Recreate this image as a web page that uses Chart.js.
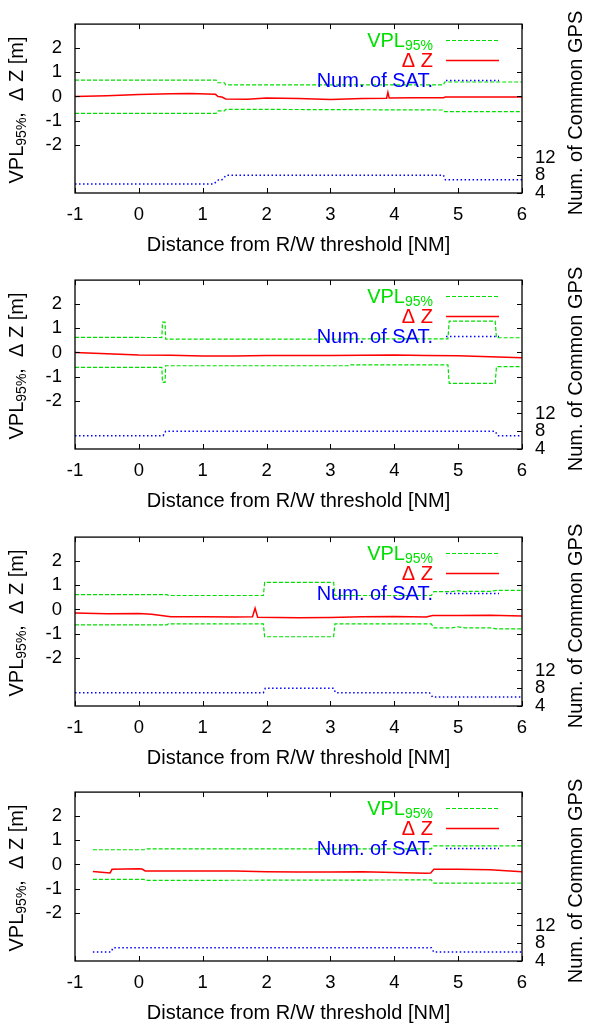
<!DOCTYPE html>
<html>
<head>
<meta charset="utf-8">
<script src="https://cdn.jsdelivr.net/npm/chart.js@4.4.1/dist/chart.umd.min.js"></script>
<style>
  body { margin: 0; background: #fff; }
  canvas { position: absolute; left: 0; }
</style>
</head>
<body>
<canvas id="c0" width="590" height="256" style="top:0px"></canvas>
<canvas id="c1" width="590" height="256" style="top:256px"></canvas>
<canvas id="c2" width="590" height="256" style="top:513px"></canvas>
<canvas id="c3" width="590" height="256" style="top:768px"></canvas>
<script>
// axis ticks
const xTicks = [-1, 0, 1, 2, 3, 4, 5, 6];
const yTicks = [-2, -1, 0, 1, 2];
const y2Ticks = [4, 8, 12];

// panel 1
const p1VplX = [-1, 1.21, 1.23, 1.34, 1.36, 4.77, 4.79, 6];
const p1VplUp = [0.68, 0.68, 0.57, 0.57, 0.48, 0.48, 0.60, 0.60];
const p1VplLo = [-0.70, -0.70, -0.60, -0.60, -0.53, -0.56, -0.63, -0.63];
const p1DzX = [-1, -0.5, 0, 0.5, 0.8, 1.2, 1.24, 1.3, 1.36, 1.7, 2.0, 2.5, 3.0, 3.5, 3.88, 3.9, 3.92, 4.3, 4.77, 4.8, 5.5, 6];
const p1Dz = [0.0, 0.03, 0.08, 0.11, 0.12, 0.09, 0.0, -0.02, -0.1, -0.11, -0.06, -0.08, -0.12, -0.08, -0.07, 0.17, -0.06, -0.05, -0.05, -0.02, -0.02, -0.02];
const p1SatX = [-1, 1.17, 1.25, 1.3, 1.37, 4.77, 4.8, 6];
const p1Sat = [6, 6, 7, 7, 8, 8, 7, 7];

// panel 2
const p2VplX = [-1, 0.36, 0.37, 0.41, 0.42, 3.3, 3.32, 4.84, 4.86, 5.58, 5.6, 6];
const p2VplUp = [0.63, 0.62, 1.26, 1.26, 0.55, 0.55, 0.56, 0.56, 1.3, 1.3, 0.61, 0.61];
const p2VplLo = [-0.62, -0.62, -1.24, -1.24, -0.55, -0.55, -0.51, -0.51, -1.28, -1.28, -0.59, -0.59];
const p2DzX = [-1, -0.5, 0, 0.5, 1, 1.5, 2, 2.5, 3, 3.5, 4, 4.5, 5, 5.5, 6];
const p2Dz = [0.0, -0.05, -0.1, -0.11, -0.15, -0.15, -0.12, -0.13, -0.12, -0.11, -0.1, -0.12, -0.14, -0.18, -0.22];
const p2SatX = [-1, 0.38, 0.42, 5.58, 5.62, 6];
const p2Sat = [7, 7, 8, 8, 7, 7];

// panel 3
const p3VplX = [-1, 0.44, 0.46, 1.95, 1.97, 3.05, 3.07, 4.58, 4.62, 4.9, 5.0, 5.1, 5.2, 5.5, 5.6, 6];
const p3VplUp = [0.62, 0.62, 0.58, 0.58, 1.12, 1.12, 0.58, 0.58, 0.74, 0.74, 0.78, 0.74, 0.75, 0.75, 0.79, 0.79];
const p3VplLo = [-0.64, -0.64, -0.6, -0.6, -1.13, -1.13, -0.6, -0.6, -0.76, -0.76, -0.72, -0.76, -0.76, -0.76, -0.8, -0.8];
const p3DzX = [-1, -0.5, 0, 0.2, 0.5, 1, 1.5, 1.78, 1.82, 1.86, 2.5, 3, 3.5, 4, 4.5, 4.6, 5, 5.5, 6];
const p3Dz = [-0.15, -0.18, -0.17, -0.2, -0.3, -0.3, -0.31, -0.3, 0.05, -0.32, -0.34, -0.33, -0.3, -0.29, -0.31, -0.25, -0.25, -0.24, -0.27];
const p3SatX = [-1, 1.95, 1.98, 3.05, 3.08, 4.55, 4.6, 6];
const p3Sat = [7, 7, 8, 8, 7, 7, 6, 6];

// panel 4
const p4VplX = [-0.72, 0.08, 0.12, 4.58, 4.62, 6];
const p4VplUp = [0.61, 0.61, 0.65, 0.65, 0.77, 0.77];
const p4VplLo = [-0.62, -0.62, -0.66, -0.64, -0.77, -0.77];
const p4DzX = [-0.72, -0.45, -0.42, 0, 0.05, 0.1, 1, 1.5, 2, 2.5, 3, 3.5, 4, 4.5, 4.57, 4.62, 5, 5.5, 6];
const p4Dz = [-0.29, -0.35, -0.2, -0.18, -0.19, -0.27, -0.27, -0.27, -0.3, -0.31, -0.31, -0.3, -0.33, -0.36, -0.35, -0.2, -0.2, -0.22, -0.3];
const p4SatX = [-0.72, -0.44, -0.4, 4.58, 4.62, 6];
const p4Sat = [6, 6, 7, 7, 6, 6];

const panels = [
  [p1VplX, p1VplUp, p1VplLo, p1DzX, p1Dz, p1SatX, p1Sat],
  [p2VplX, p2VplUp, p2VplLo, p2DzX, p2Dz, p2SatX, p2Sat],
  [p3VplX, p3VplUp, p3VplLo, p3DzX, p3Dz, p3SatX, p3Sat],
  [p4VplX, p4VplUp, p4VplLo, p4DzX, p4Dz, p4SatX, p4Sat]
];

const GREEN = '#00e000';
const RED = '#ff0000';
const BLUE = '#0000ff';
const FAMILY = '"Liberation Sans", Arial, sans-serif';
const tickFont = { family: FAMILY, size: 18.5 };

function pts(xs, ys) {
  return xs.map((x, i) => ({ x: x, y: ys[i] }));
}

// text with a subscript part, e.g. VPL_{95%}
function drawSub(ctx, x, y, main, sub, rest, align) {
  ctx.font = '20px ' + FAMILY;
  const w1 = ctx.measureText(main).width;
  const w3 = rest ? ctx.measureText(rest).width : 0;
  ctx.font = '14px ' + FAMILY;
  const w2 = ctx.measureText(sub).width;
  const total = w1 + w2 + w3;
  let sx = align === 'right' ? x - total : (align === 'center' ? x - total / 2 : x);
  ctx.textAlign = 'left';
  ctx.font = '20px ' + FAMILY;
  ctx.fillText(main, sx, y);
  ctx.font = '14px ' + FAMILY;
  ctx.fillText(sub, sx + w1, y + 3);
  if (rest) {
    ctx.font = '20px ' + FAMILY;
    ctx.fillText(rest, sx + w1 + w2, y);
  }
}

const gnuFrame = {
  id: 'gnuFrame',
  afterDraw(chart) {
    const ctx = chart.ctx;
    const a = chart.chartArea;
    const sx = chart.scales.x, sy = chart.scales.y, sy2 = chart.scales.y2;
    ctx.save();
    ctx.strokeStyle = '#000';
    ctx.lineWidth = 1.3;
    ctx.strokeRect(a.left, a.top, a.right - a.left, a.bottom - a.top);
    ctx.lineWidth = 1;
    ctx.beginPath();
    const t = 5;
    yTicks.forEach(v => {
      const p = Math.round(sy.getPixelForValue(v)) + 0.5;
      ctx.moveTo(a.left, p); ctx.lineTo(a.left + t, p);
      ctx.moveTo(a.right, p); ctx.lineTo(a.right - t, p);
    });
    y2Ticks.forEach(v => {
      const p = Math.round(sy2.getPixelForValue(v)) + 0.5;
      ctx.moveTo(a.right, p); ctx.lineTo(a.right - t, p);
    });
    xTicks.forEach(v => {
      const p = Math.round(sx.getPixelForValue(v)) + 0.5;
      ctx.moveTo(p, a.bottom); ctx.lineTo(p, a.bottom - t);
      ctx.moveTo(p, a.top); ctx.lineTo(p, a.top + t);
    });
    ctx.stroke();

    // key
    ctx.textBaseline = 'alphabetic';
    ctx.fillStyle = GREEN;
    drawSub(ctx, 433, 46.5, 'VPL', '95%', '', 'right');
    ctx.font = '20px ' + FAMILY;
    ctx.textAlign = 'right';
    ctx.fillStyle = RED;
    ctx.fillText('\u0394 Z', 433, 66.5);
    ctx.fillStyle = BLUE;
    ctx.fillText('Num. of SAT.', 433, 86.5);
    const samples = [[40.5, GREEN, [4, 2], 1.2], [60.5, RED, [], 1.5], [80.5, BLUE, [1.5, 2.5], 1.5]];
    samples.forEach(s => {
      ctx.beginPath();
      ctx.strokeStyle = s[1];
      ctx.setLineDash(s[2]);
      ctx.lineWidth = s[3];
      ctx.moveTo(446, s[0]); ctx.lineTo(499, s[0]);
      ctx.stroke();
    });
    ctx.setLineDash([]);

    // axis titles
    ctx.fillStyle = '#000';
    ctx.font = '20px ' + FAMILY;
    ctx.textAlign = 'center';
    ctx.fillText('Distance from R/W threshold [NM]', (a.left + a.right) / 2, 251);

    ctx.save();
    ctx.translate(23, 110);
    ctx.rotate(-Math.PI / 2);
    drawSub(ctx, 0, 0, 'VPL', '95%', ',  \u0394 Z [m]', 'center');
    ctx.restore();

    ctx.save();
    ctx.translate(582, 113);
    ctx.rotate(-Math.PI / 2);
    ctx.font = '20px ' + FAMILY;
    ctx.textAlign = 'center';
    ctx.fillText('Num. of Common GPS', 0, 0);
    ctx.restore();
    ctx.restore();
  }
};

panels.forEach((p, i) => {
  const ctx = document.getElementById('c' + i).getContext('2d');
  new Chart(ctx, {
    type: 'line',
    data: {
      datasets: [
        { data: pts(p[0], p[1]), borderColor: GREEN, borderDash: [4, 2], borderWidth: 1.2, yAxisID: 'y' },
        { data: pts(p[0], p[2]), borderColor: GREEN, borderDash: [4, 2], borderWidth: 1.2, yAxisID: 'y' },
        { data: pts(p[3], p[4]), borderColor: RED, borderWidth: 1.5, yAxisID: 'y' },
        { data: pts(p[5], p[6]), borderColor: BLUE, borderDash: [1.5, 2.5], borderWidth: 1.5, yAxisID: 'y2' }
      ]
    },
    options: {
      responsive: false,
      animation: false,
      events: [],
      layout: { padding: { top: 24, left: 0, right: 0, bottom: 0 } },
      elements: { point: { radius: 0 }, line: { tension: 0 } },
      plugins: { legend: { display: false }, tooltip: { enabled: false } },
      scales: {
        x: {
          type: 'linear', min: -1, max: 6,
          afterBuildTicks(s) { s.ticks = xTicks.map(v => ({ value: v })); },
          afterFit(s) { s.height = 63; },
          ticks: { font: tickFont, color: '#000', padding: 11, autoSkip: false, maxRotation: 0 },
          grid: { display: false, drawTicks: false },
          border: { display: false }
        },
        y: {
          min: -4, max: 3,
          afterBuildTicks(s) { s.ticks = yTicks.map(v => ({ value: v })); },
          afterFit(s) { s.width = 75; },
          ticks: { font: tickFont, color: '#000', padding: 13 },
          grid: { display: false, drawTicks: false },
          border: { display: false }
        },
        y2: {
          position: 'right', min: 4, max: 42,
          afterBuildTicks(s) { s.ticks = y2Ticks.map(v => ({ value: v })); },
          afterFit(s) { s.width = 68; },
          ticks: { font: tickFont, color: '#000', padding: 13 },
          grid: { display: false, drawTicks: false },
          border: { display: false }
        }
      }
    },
    plugins: [gnuFrame]
  });
});
</script>
</body>
</html>
